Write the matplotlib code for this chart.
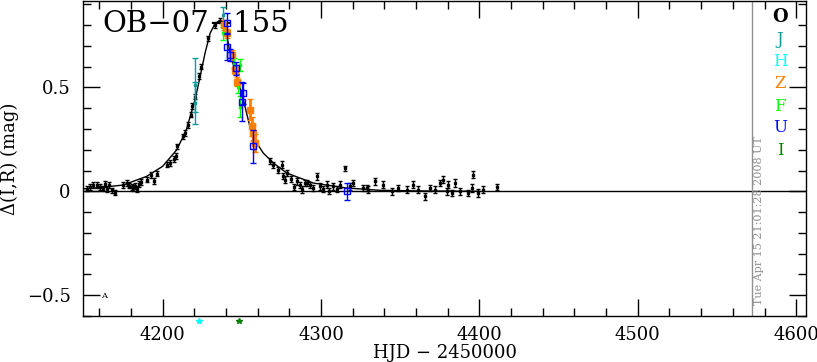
import matplotlib
matplotlib.use("Agg")
import matplotlib.pyplot as plt
from matplotlib.ticker import MultipleLocator

# ---- data ----
o_x = [4152, 4154.2, 4156.3, 4158.8, 4160.5, 4162.2, 4163.7, 4165.2, 4166.4, 4167.9, 4170,
       4175.3, 4177.4, 4179, 4180.5, 4181.6, 4182.6, 4184.1, 4185.4, 4186.4, 4190, 4192.5,
       4194.6, 4196.7, 4203, 4204.7, 4207.3, 4208.5, 4209.3, 4212.7, 4214.2, 4216.3, 4218,
       4218.8, 4220.5, 4223.2, 4224.1, 4228.9, 4233, 4236, 4240.5, 4243.7, 4246.8, 4250,
       4256.3, 4257.3, 4267.9, 4270, 4273.1, 4275.2, 4276.3, 4277.4, 4278.4, 4281, 4283,
       4284.7, 4286.8, 4288, 4290, 4291, 4293, 4295.2, 4297.3, 4299.4, 4301, 4303.6, 4305,
       4307.8, 4310, 4312, 4315.2, 4318.4, 4320.5, 4326.8, 4329, 4330, 4334.2, 4339.4,
       4344.7, 4348.9, 4354.2, 4358.3, 4361.5, 4365.7, 4368.8, 4372, 4375.2, 4377.3, 4379.4,
       4380.4, 4382.6, 4384.7, 4387.8, 4393.1, 4395.2, 4396.2, 4399.4, 4402.5, 4411]
o_y = [0.012, 0.021, 0.029, 0.032, 0.021, 0.012, 0.034, 0.012, 0.031, 0.005, -0.008,
       0.029, 0.040, 0.027, 0.021, 0.016, 0.024, 0.012, 0.035, 0.043, 0.056, 0.079,
       0.048, 0.085, 0.128, 0.136, 0.155, 0.171, 0.216, 0.264, 0.280, 0.320, 0.368,
       0.411, 0.456, 0.555, 0.600, 0.736, 0.800, 0.820, 0.760, 0.640, 0.576, 0.472,
       0.296, 0.264, 0.144, 0.128, 0.104, 0.128, 0.072, 0.056, 0.088, 0.060, 0.020,
       0.048, 0.032, 0.010, 0.040, 0.040, 0.030, 0.016, 0.072, 0.024, 0.010, 0.032, 0.000,
       0.024, 0.010, 0.032, 0.112, 0.024, 0.040, 0.016, 0.016, 0.008, 0.048, 0.032,
       0.000, 0.016, 0.008, 0.032, 0.008, -0.024, 0.016, 0.008, 0.040, 0.056, 0.000,
       0.032, -0.008, 0.040, 0.000, -0.008, 0.016, 0.080, -0.008, 0.008, 0.021]
o_e = [0.012, 0.015, 0.015, 0.014, 0.015, 0.012, 0.015, 0.014, 0.015, 0.012, 0.012,
       0.014, 0.015, 0.013, 0.014, 0.013, 0.015, 0.013, 0.014, 0.015, 0.012, 0.013,
       0.014, 0.013, 0.012, 0.013, 0.013, 0.014, 0.013, 0.012, 0.013, 0.013, 0.012,
       0.013, 0.013, 0.013, 0.012, 0.013, 0.012, 0.012, 0.013, 0.014, 0.013, 0.014,
       0.016, 0.015, 0.014, 0.014, 0.015, 0.016, 0.015, 0.016, 0.015, 0.015, 0.016,
       0.016, 0.015, 0.016, 0.015, 0.016, 0.015, 0.016, 0.018, 0.016, 0.015, 0.016, 0.015,
       0.016, 0.015, 0.016, 0.012, 0.016, 0.016, 0.016, 0.015, 0.016, 0.018, 0.016,
       0.017, 0.016, 0.016, 0.017, 0.016, 0.018, 0.016, 0.016, 0.016, 0.017, 0.016,
       0.016, 0.016, 0.017, 0.017, 0.016, 0.017, 0.016, 0.017, 0.016, 0.016]

j_x = [4220.5, 4220.5, 4238.4]
j_y = [0.512, 0.424, 0.848]
j_e = [0.128, 0.100, 0.040]

z_x = [4239, 4240.5, 4243.7, 4245.8, 4247.3, 4255.2, 4256.3, 4257.3, 4258.4]
z_y = [0.800, 0.760, 0.656, 0.584, 0.528, 0.392, 0.312, 0.280, 0.232]
z_e = [0.025, 0.020, 0.025, 0.020, 0.020, 0.050, 0.045, 0.040, 0.045]

f_x = [4238.4, 4245.3, 4248.9, 4247.8, 4248.9]
f_y = [0.760, 0.616, 0.608, 0.504, 0.408]
f_e = [0.030, 0.025, 0.030, 0.030, 0.050]

u_x = [4240.5, 4240.5, 4242.6, 4246.4, 4250, 4251, 4257.3, 4316.3]
u_y = [0.808, 0.696, 0.656, 0.592, 0.432, 0.472, 0.216, 0.000]
u_e = [0.050, 0.064, 0.030, 0.030, 0.096, 0.050, 0.080, 0.040]

# points plotted just below the frame
h_x, h_y = [4223], [-0.625]
i_x, i_y = [4248], [-0.625]

# model light curve
m_x = [4150, 4160, 4175, 4190, 4200, 4209, 4215, 4220.5, 4223.7, 4226.8, 4230, 4233,
       4235.5, 4237.5, 4239.5, 4242.6, 4246.8, 4251, 4255.2, 4259.5, 4263.6, 4270,
       4278.4, 4295, 4316, 4337, 4360, 4400]
m_y = [0.012, 0.018, 0.030, 0.072, 0.120, 0.200, 0.296, 0.440, 0.552, 0.664, 0.760, 0.805,
       0.820, 0.820, 0.800, 0.664, 0.552, 0.440, 0.310, 0.232, 0.184, 0.136,
       0.088, 0.040, 0.016, 0.005, 0.002, 0.0]

legend_labels = ["O", "J", "H", "Z", "F", "U", "I"]
legend_colors = ["black", "#109a9a", "#00ffff", "#ff8000", "#00ff00", "#0000ff", "#008000"]

title = "OB\u221207\u2212155"
stamp = "Tue Apr 15 21:01:28 2008 UT"
stamp_x = 4572

# ---- figure ----
plt.rcParams['font.family'] = ['DejaVu Serif']
plt.rcParams['mathtext.fontset'] = 'dejavuserif'
fig = plt.figure(figsize=(8.17, 3.62), dpi=100)
ax = fig.add_axes([0.102, 0.127, 0.8842, 0.871])

ax.axhline(0, color="black", lw=1, zorder=1)
ax.axvline(stamp_x, color="#909090", lw=1, zorder=1)
ax.plot(m_x, m_y, color="black", lw=1, zorder=2)

ax.errorbar(o_x, o_y, yerr=o_e, fmt='s', color='black', ms=1.8, elinewidth=1,
            capsize=1.5, capthick=1, zorder=3)
ax.errorbar(j_x, j_y, yerr=j_e, fmt='s', color=legend_colors[1], ms=2, elinewidth=1,
            capsize=2, capthick=1, zorder=4)
ax.errorbar(z_x, z_y, yerr=z_e, fmt='s', color=legend_colors[3], ms=4, elinewidth=2,
            capsize=2, capthick=1, zorder=4)
ax.errorbar(f_x, f_y, yerr=f_e, fmt='s', color=legend_colors[4], ms=2, elinewidth=1,
            capsize=2, capthick=1, zorder=4)
ax.errorbar(u_x, u_y, yerr=u_e, fmt='s', color=legend_colors[5], ms=4, mfc='none',
            elinewidth=1, capsize=2, capthick=1, zorder=5)
ax.plot(h_x, h_y, '*', color=legend_colors[2], ms=4, clip_on=False)
ax.plot(i_x, i_y, '*', color=legend_colors[6], ms=4, clip_on=False)
ax.text(4163, -0.505, "A", fontsize=6, ha='center', va='center')

ax.set_xlim(4150, 4606)
ax.set_ylim(-0.6, 0.917)
ax.xaxis.set_major_locator(MultipleLocator(100))
ax.xaxis.set_minor_locator(MultipleLocator(20))
ax.yaxis.set_major_locator(MultipleLocator(0.5))
ax.yaxis.set_minor_locator(MultipleLocator(0.1))
ax.yaxis.set_major_formatter(plt.FuncFormatter(lambda v, p: "0" if abs(v) < 1e-9 else f"{v:.1f}".replace("-", "\u2212")))
ax.tick_params(which='both', direction='in', top=True, right=True, width=1, labelsize=13)
ax.tick_params(which='major', length=12)
ax.tick_params(which='minor', length=6)
ax.tick_params(axis='x', pad=7)
ax.tick_params(axis='y', pad=9)
for s in ax.spines.values():
    s.set_linewidth(1)

ax.set_xlabel("HJD \u2212 2450000", fontsize=13, labelpad=0)
ax.set_ylabel("\u0394(I,R) (mag)", fontsize=13, labelpad=6)

ax.text(0.026, 0.97, title, transform=ax.transAxes, fontsize=21, ha='left', va='top')
ax.text(stamp_x + 4.4, -0.545, stamp, rotation=90, fontsize=8, color="#909090",
        ha='center', va='bottom')

leg_y = [16.7, 39.3, 61.7, 83.3, 106, 127.3, 150]
for lab, col, py in zip(legend_labels, legend_colors, leg_y):
    fy = 1 - (py - 0.7) / 315.3
    ax.text(0.9645, fy, lab, transform=ax.transAxes, color=col,
            fontsize=13 if lab == "O" else 12, ha='center', va='center',
            fontweight='bold' if lab == "O" else 'normal')

fig.savefig("out.png", dpi=100)
